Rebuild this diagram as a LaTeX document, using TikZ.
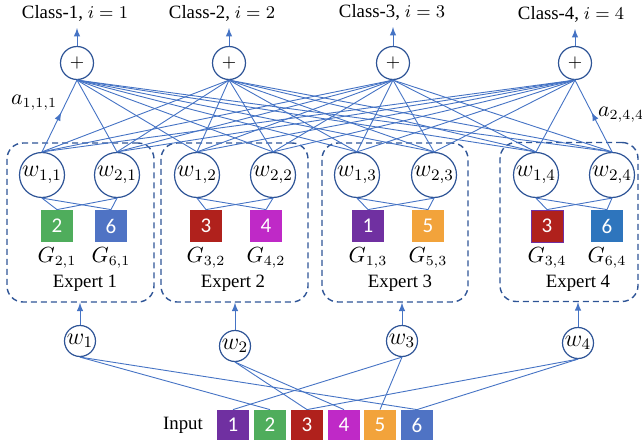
\documentclass[tikz,border=0pt]{standalone}
\usepackage{fontspec}
\setmainfont{Liberation Serif}
\newfontfamily\chiffres{Carlito}
\usetikzlibrary{arrows,decorations.markings}
\definecolor{bleu}{rgb}{0.27,0.45,0.77}
\definecolor{bleufonce}{rgb}{0.18,0.33,0.59}
\definecolor{ccarre1}{rgb}{0.44,0.19,0.63}
\definecolor{ccarre2}{rgb}{0.31,0.68,0.36}
\definecolor{ccarre3}{rgb}{0.69,0.13,0.11}
\definecolor{ccarre4}{rgb}{0.75,0.16,0.78}
\definecolor{ccarre5}{rgb}{0.95,0.64,0.23}
\definecolor{ccarre6}{rgb}{0.31,0.45,0.77}
\definecolor{ccarre6b}{rgb}{0.18,0.46,0.74}

\begin{document}
\begin{tikzpicture}[x=0.5pt, y=0.5pt, >=latex, font=\fontsize{9.4}{11}\selectfont]
	\tikzstyle{poids}=[circle, minimum size=22.5pt, inner sep=0pt, draw=bleufonce, line width=0.6pt, fill=white, font=\fontsize{11.5}{13}\selectfont]
	\tikzstyle{somme}=[circle, minimum size=16.5pt, inner sep=0pt, draw=bleufonce, line width=0.6pt, fill=white]
	\tikzstyle{porte}=[circle, minimum size=15.5pt, inner sep=0pt, draw=bleufonce, line width=0.6pt, font=\fontsize{11.5}{13}\selectfont]
	\tikzstyle{carre}=[minimum width=16pt, minimum height=16pt, inner sep=0pt, text=white, font=\chiffres\fontsize{10.5}{12}\selectfont]
	\tikzstyle{etiq}=[font=\fontsize{10.5}{12}\selectfont]
	\tikzstyle{expert}=[draw=bleufonce, dash pattern=on 3pt off 2pt, rounded corners=8pt, line width=0.7pt, minimum height=79.5pt]
	\tikzstyle{fil}=[draw=bleu, line width=0.45pt]
	\tikzstyle{fleche}=[fil, postaction={decorate}, decoration={markings, mark=at position 0.55 with {\arrow{latex}}}]

	\useasboundingbox (0,0) rectangle (642,445);

	% EXPERTS
	\node[expert, minimum width=73.5pt] (B1) at (80.5,222.5) {};
	\node[expert, minimum width=73.5pt] (B2) at (234.5,222.5) {};
	\node[expert, minimum width=73pt] (B3) at (395,222.5) {};
	\node[expert, minimum width=69pt] (B4) at (569,223) {};

	% SOMMES
	\node[somme] (P1) at (77,382) {$+$};
	\node[somme] (P2) at (229,382) {$+$};
	\node[somme] (P3) at (393,382) {$+$};
	\node[somme] (P4) at (575,382) {$+$};

	% CLASSES
	\node (C1) at (75,432) {Class-1, $i = 1$};
	\node (C2) at (222,432) {Class-2, $i = 2$};
	\node (C3) at (392,433) {Class-3, $i = 3$};
	\node (C4) at (571,431) {Class-4, $i = 4$};

	% POIDS
	\node[poids] (W11) at (42,270) {$w_{1,1}$};
	\node[poids] (W21) at (117,270) {$w_{2,1}$};
	\node[poids] (W12) at (197,270) {$w_{1,2}$};
	\node[poids] (W22) at (273,270) {$w_{2,2}$};
	\node[poids] (W13) at (357,270) {$w_{1,3}$};
	\node[poids] (W23) at (434,270) {$w_{2,3}$};
	\node[poids] (W14) at (536,270) {$w_{1,4}$};
	\node[poids] (W24) at (612,270) {$w_{2,4}$};

	% CARRES
	\node[carre, fill=ccarre2] (G21) at (57,219) {2};
	\node[carre, fill=ccarre6] (G61) at (111,219) {6};
	\node[carre, fill=ccarre3] (G32) at (206,219) {3};
	\node[carre, fill=ccarre4] (G42) at (266,219) {4};
	\node[carre, fill=ccarre1] (G13) at (368,219) {1};
	\node[carre, fill=ccarre5] (G53) at (428,219) {5};
	\node[carre, fill=ccarre3, draw=ccarre1, line width=0.4pt] (G34) at (547,219) {3};
	\node[carre, fill=ccarre6b] (G64) at (607,219) {6};

	\node[etiq] (LG21) at (57,187) {$G_{2,1}$};
	\node[etiq] (LG61) at (111,187) {$G_{6,1}$};
	\node[etiq] (LG32) at (206,187) {$G_{3,2}$};
	\node[etiq] (LG42) at (266,187) {$G_{4,2}$};
	\node[etiq] (LG13) at (368,187) {$G_{1,3}$};
	\node[etiq] (LG53) at (428,187) {$G_{5,3}$};
	\node[etiq] (LG34) at (547,187) {$G_{3,4}$};
	\node[etiq] (LG64) at (607,187) {$G_{6,4}$};

	\node (LE1) at (85,162) {Expert 1};
	\node (LE2) at (233,162) {Expert 2};
	\node (LE3) at (400,162) {Expert 3};
	\node (LE4) at (578,162) {Expert 4};

	% PORTES
	\node[porte] (V1) at (80,104) {$w_1$};
	\node[porte] (V2) at (235,99) {$w_2$};
	\node[porte] (V3) at (402,104) {$w_3$};
	\node[porte] (V4) at (578,102) {$w_4$};

	% ENTREE
	\node (In) at (183,20) {Input};
	\node[carre, fill=ccarre1, minimum height=15pt] (I1) at (233,20) {1};
	\node[carre, fill=ccarre2, minimum height=15pt] (I2) at (270,20) {2};
	\node[carre, fill=ccarre3, minimum height=15pt] (I3) at (307,20) {3};
	\node[carre, fill=ccarre4, minimum height=15pt] (I4) at (344,20) {4};
	\node[carre, fill=ccarre5, minimum height=15pt] (I5) at (380,20) {5};
	\node[carre, fill=ccarre6, minimum height=15pt] (I6) at (417,20) {6};

	% CONNEXIONS
	\draw[fil] (P1.south) edge (W21.north) edge (W12.north) edge (W22.north) edge (W13.north)
		edge (W23.north) edge (W14.north) edge (W24.north);
	\draw[fil] (P2.south) edge (W11.north) edge (W21.north) edge (W12.north) edge (W22.north)
		edge (W13.north) edge (W23.north) edge (W14.north) edge (W24.north);
	\draw[fil] (P3.south) edge (W11.north) edge (W21.north) edge (W12.north) edge (W22.north)
		edge (W13.north) edge (W23.north) edge (W14.north) edge (W24.north);
	\draw[fil] (P4.south) edge (W11.north) edge (W21.north) edge (W12.north) edge (W22.north)
		edge (W13.north) edge (W23.north) edge (W14.north);
	\draw[fleche] (W11.north) -- (P1.south);
	\draw[fleche] (W24.north) -- (P4.south);
	\node[etiq] (A111) at (34,342) {$a_{1,1,1}$};
	\node[etiq] (A244) at (621,330) {$a_{2,4,4}$};

	\draw[fil, ->] (P1.north) -- (P1 |- C1.south);
	\draw[fil, ->] (P2.north) -- (P2 |- C2.south);
	\draw[fil, ->] (P3.north) -- (P3 |- C3.south);
	\draw[fil, ->] (P4.north) -- (P4 |- C4.south);

	\draw[fil] (W11.south) edge (G21.north) edge (G61.north);
	\draw[fil] (W21.south) edge (G21.north) edge (G61.north);
	\draw[fil] (W12.south) edge (G32.north) edge (G42.north);
	\draw[fil] (W22.south) edge (G32.north) edge (G42.north);
	\draw[fil] (W13.south) edge (G13.north) edge (G53.north);
	\draw[fil] (W23.south) edge (G13.north) edge (G53.north);
	\draw[fil] (W14.south) edge (G34.north) edge (G64.north);
	\draw[fil] (W24.south) edge (G34.north) edge (G64.north);

	\draw[fil, ->] (V1.north) -- (V1 |- B1.south);
	\draw[fil, ->] (V2.north) -- (V2 |- B2.south);
	\draw[fil, ->] (V3.north) -- (V3 |- B3.south);
	\draw[fil, ->] (V4.north) -- (V4 |- B4.south);

	\draw[fil] (V1.south) edge (I2.north) edge (I6.north);
	\draw[fil] (V2.south) edge (I3.north) edge (I4.north);
	\draw[fil] (V3.south) edge (I1.north) edge (I5.north);
	\draw[fil] (V4.south) edge (I3.north) edge (I6.north);
\end{tikzpicture}
\end{document}
